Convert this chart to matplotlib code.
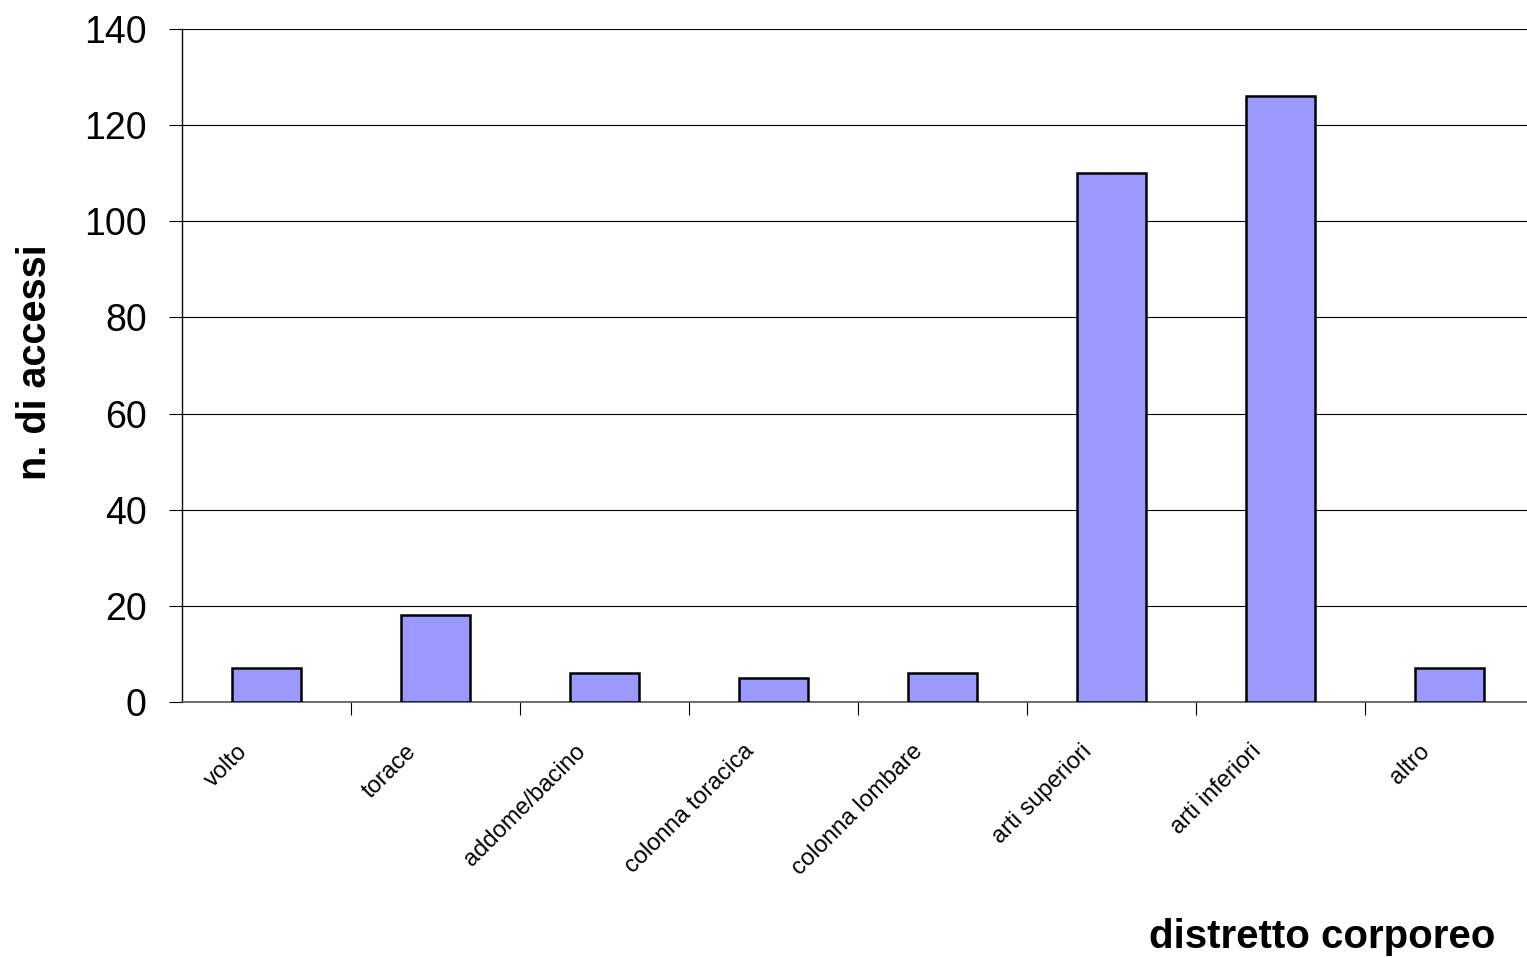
import matplotlib

matplotlib.use("Agg")
import matplotlib.pyplot as plt
import matplotlib.transforms as mtransforms
import numpy as np

# data
CATEGORIES = ["volto", "torace", "addome/bacino", "colonna toracica",
              "colonna lombare", "arti superiori", "arti inferiori", "altro"]
ACCESSI = [7, 18, 6, 5, 6, 110, 126, 7]
Y_TICKS = [0, 20, 40, 60, 80, 100, 120, 140]

BAR = "#9999ff"
INK = "#000000"

W, H = 1527, 958
plt.rcParams["font.family"] = ["Liberation Sans", "DejaVu Sans"]

fig = plt.figure(figsize=(W / 100, H / 100), dpi=100, facecolor="white")
# plot area: left axis at x=182px, zero line at y=702px, top at y=29px
ax = fig.add_axes([182 / W, 1 - 702 / H, 1352 / W, (702 - 29) / H])

x = np.arange(len(CATEGORIES))
ax.bar(x, ACCESSI, width=0.41, color=BAR, edgecolor=INK, linewidth=1.8, zorder=3)

ax.set_xlim(-0.5, len(CATEGORIES) - 0.5)
ax.set_ylim(Y_TICKS[0], Y_TICKS[-1])
ax.set_yticks(Y_TICKS)
ax.yaxis.grid(True, color=INK, linewidth=0.8, zorder=0)

for side in ("top", "right"):
    ax.spines[side].set_visible(False)
ax.spines["left"].set_color(INK)
ax.spines["left"].set_linewidth(1.0)
ax.spines["bottom"].set_color("#555555")
ax.spines["bottom"].set_linewidth(1.2)

ax.tick_params(axis="y", direction="out", length=9.4, width=0.8, pad=16,
               labelsize=27, colors=INK)

# category separators as minor ticks, labels on the (invisible) major ticks
ax.set_xticks(x[:-1] + 0.5, minor=True)
ax.set_xticks(x)
ax.set_xticklabels(CATEGORIES, rotation=45, ha="right", va="top", fontsize=17)
ax.tick_params(axis="x", which="major", length=9.4, width=0, pad=18)
ax.tick_params(axis="x", which="minor", direction="out", length=9.4, width=0.8,
               colors=INK)
shift = mtransforms.ScaledTranslation(-0.15, 0, fig.dpi_scale_trans)
for lab in ax.get_xticklabels():
    lab.set_transform(lab.get_transform() + shift)

fig.text(35 / W, 1 - 362 / H, "n. di accessi", rotation=90, ha="center",
         va="center", fontsize=28.5, fontweight="bold", color=INK)
fig.text(1495 / W, 1 - 948 / H, "distretto corporeo", ha="right",
         va="baseline", fontsize=29, fontweight="bold", color=INK)

fig.savefig("out.png", dpi=100, facecolor="white")
plt.close(fig)
